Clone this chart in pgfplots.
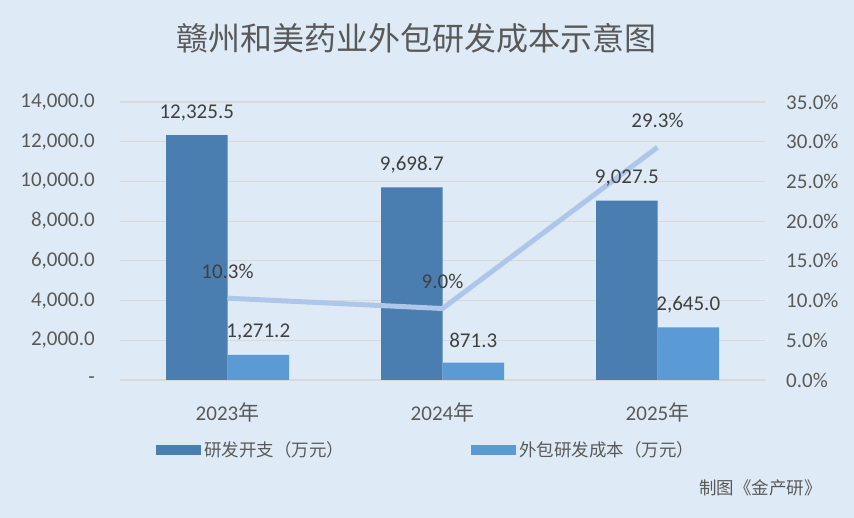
\documentclass[border=0pt]{standalone}
\usepackage{pgfplots}
\pgfplotsset{compat=1.18}
\usepackage{fontspec}
\setmainfont{Carlito}
\newfontfamily\cjk{Noto Sans CJK SC}
\definecolor{bg}{HTML}{DEEBF7}
\definecolor{darkbar}{HTML}{4A7EB0}
\definecolor{lightbar}{HTML}{5B9BD5}
\definecolor{linec}{HTML}{AEC7E8}
\definecolor{gridc}{HTML}{D9D9D9}
\definecolor{txt}{HTML}{595959}
\definecolor{lbl}{HTML}{404040}
\pgfplotsset{
  base/.style={
    at={(120pt,138pt)}, anchor=south west,
    width=645pt, height=278pt, scale only axis,
    clip=false, scaled y ticks=false,
    /pgf/number format/assume math mode=true,
    xmin=-0.5, xmax=2.5,
    axis line style={draw=none}, major tick style={draw=none},
    tick label style={font=\fontsize{21}{24}\selectfont, text=txt, inner sep=0pt},
  },
  barlbl/.style={
    nodes near coords={\pgfmathprintnumber[fixed, fixed zerofill, precision=1, 1000 sep={,}]{\pgfplotspointmeta}},
    every node near coord/.append style={anchor=center, yshift=22.5pt, inner sep=0pt, text=lbl, font=\fontsize{21}{24}\selectfont},
  },
}
\begin{document}
\begin{tikzpicture}
\fill[bg] (0,0) rectangle (854pt,518pt);
\useasboundingbox (0,0) rectangle (854pt,518pt);
\node[txt, inner sep=0, font=\cjk\fontsize{32}{36}\selectfont] at (416pt,480pt) {赣州和美药业外包研发成本示意图};
\node[txt, anchor=east, inner sep=0, font=\cjk\fontsize{17.5}{20}\selectfont] at (822pt,30pt) {制图《金产研》};

% bars
\begin{axis}[
  base,
  ymin=0, ymax=14000,
  ytick={0,2000,4000,6000,8000,10000,12000,14000},
  yticklabels={{-\hspace{12pt}},{2,000.0},{4,000.0},{6,000.0},{8,000.0},{10,000.0},{12,000.0},{14,000.0}},
  xtick={0,1,2},
  xticklabels={{2023{\cjk 年}},{2024{\cjk 年}},{2025{\cjk 年}}},
  ymajorgrids, grid style={gridc, line width=1.2pt},
  yticklabel style={anchor=east, xshift=-25pt},
  xticklabel style={anchor=center, yshift=-28pt},
  ybar, bar width=61.5pt,
  legend style={at={(0.0558,-0.2518)}, anchor=west, draw=none, fill=none,
    inner sep=0pt, font=\cjk\fontsize{17.5}{20}\selectfont, text=txt,
    /tikz/every even column/.append style={column sep=124pt},
    nodes={inner xsep=3pt, inner ysep=0pt}},
  legend columns=2,
]
\addplot[fill=darkbar, draw=none, bar shift=-30.75pt,
  legend image code/.code={\fill[darkbar] (0pt,-5pt) rectangle (45pt,5pt);}]
  coordinates {(0,12325.5) (1,9698.7) (2,9027.5)};
\addlegendentry{研发开支（万元）}
\addplot[fill=lightbar, draw=none, bar shift=30.75pt,
  legend image code/.code={\fill[lightbar] (0pt,-5pt) rectangle (45pt,5pt);}]
  coordinates {(0,1271.2) (1,871.3) (2,2645.0)};
\addlegendentry{外包研发成本（万元）}
\end{axis}

% line on secondary axis
\begin{axis}[
  base,
  ymin=0, ymax=35,
  ytick={0,5,10,15,20,25,30,35},
  yticklabels={{0.0\%},{5.0\%},{10.0\%},{15.0\%},{20.0\%},{25.0\%},{30.0\%},{35.0\%}},
  yticklabel pos=right,
  xtick=\empty,
  yticklabel style={anchor=west, xshift=21pt},
  every node near coord/.append style={anchor=center, yshift=27pt, inner sep=0pt, text=lbl, font=\fontsize{21}{24}\selectfont},
]
\addplot[color=linec, line width=5pt, mark=none,
  nodes near coords={\pgfmathprintnumber[fixed, fixed zerofill, precision=1]{\pgfplotspointmeta}\%}]
  coordinates {(0,10.3) (1,9.0) (2,29.3)};
\end{axis}

% bar value labels on top
\begin{axis}[
  base,
  ymin=0, ymax=14000,
  xtick=\empty, ytick=\empty,
  ybar, bar width=61.5pt,
]
\addplot[fill=none, draw=none, bar shift=-30.75pt, barlbl]
  coordinates {(0,12325.5) (1,9698.7) (2,9027.5)};
\addplot[fill=none, draw=none, bar shift=30.75pt, barlbl]
  coordinates {(0,1271.2) (1,871.3) (2,2645.0)};
\end{axis}
\end{tikzpicture}
\end{document}
